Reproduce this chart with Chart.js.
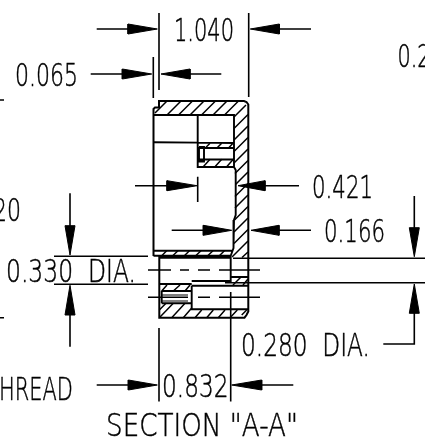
<!DOCTYPE html>
<html>
<head>
<meta charset="utf-8">
<script src="https://cdn.jsdelivr.net/npm/chart.js@4"></script>
<style>
  html, body { margin: 0; padding: 0; background: #fff; overflow: hidden; }
  canvas { display: block; }
</style>
</head>
<body>
<canvas id="drawing" width="425" height="438"></canvas>
<script>
// drawing units are the sheet units of the section view, y runs downward
const bodyOutline = [
    [[153.5,256],[153.5,109],[155,107.5],[159,107.5],[159,101],[244,101],[246.5,102],[248.3,104.5],[248.3,311.5],[246.5,315],[244.5,317.7],[159.3,317.7],[159.3,256]]
];
const innerLines = [
    [[153.5,115],[234,115],[234,167],[235.7,170],[235.7,215],[234,220],[233.5,248],[230,257.7]],
    [[197.7,115],[197.7,167],[234,167]],
    [[153.5,142.3],[197.7,142.6],[234,143]],
    [[199,148],[234,148]],
    [[199,159.5],[234,159.5]],
    [[199,147],[199,161.5],[204,161.5],[204,147],[199,147]],
    [[153.5,250.7],[233,250.7]],
    [[153.5,255.7],[230.7,255.7]],
    [[159.3,257.7],[230.7,257.7],[230.7,281],[191.7,281]],
    [[159.3,284],[191.7,284]],
    [[191.7,285.7],[248.3,285.7]],
    [[231,277],[248.3,277]],
    [[191.7,285.7],[191.7,309.3],[248.3,309.3]],
    [[161.7,291],[191.7,291]],
    [[161.7,303.3],[191.7,303.3]],
    [[161.7,291],[161.7,303.3]]
];
const threadLines = [
    [[162,295],[188,295]],
    [[162,301],[188,301]]
];
const centerLines = [
    [[148,270],[171,270]], [[180,270],[189,270]], [[198,270],[210,270]], [[219,270],[260,270]],
    [[148,297.3],[188,297.3]], [[198,297.3],[210,297.3]], [[219,297.3],[260,297.3]]
];
const hatchLines = [
    [[155,113],[167,101]], [[167,115],[181,101]], [[178.5,115],[192.5,101]], [[190,115],[204,101]],
    [[201.5,115],[215.5,101]], [[213,115],[227,101]], [[224.5,115],[238.5,101]], [[234,117],[246,105]],
    [[234,128.5],[248,114.5]], [[234,140],[248,126]], [[234,151.5],[248,137.5]], [[234,163],[248,149]],
    [[235,173.5],[248,160.5]], [[235.5,184.5],[248,172]], [[235,196.5],[248,183.5]], [[235,208],[248,195]],
    [[234.5,220],[248,206.5]], [[234,232],[248,218]], [[234,243.5],[248,229.5]], [[232,257],[248,241]],
    [[242,257.5],[248,252]],
    [[205,148.3],[210,143.3]], [[216.7,148.3],[221.7,143.3]], [[228.3,148.3],[233,143.3]],
    [[203.3,166.7],[210,159.3]], [[215,166.7],[221.7,159.3]], [[226.7,166.7],[233.3,159.3]],
    [[161.7,255.7],[166.7,250.7]], [[172.7,255.7],[178,250.7]], [[184.3,255.7],[189.5,250.7]],
    [[195.7,255.7],[201,250.7]], [[207.7,255.7],[213,250.7]], [[219.3,255.7],[224.5,250.7]],
    [[161.7,291],[167,285]], [[173.3,291],[180,285]], [[185,291],[190,285]],
    [[233,285],[241,277]], [[243,285],[248,279]],
    [[159.3,317.7],[173.3,303.3]], [[171.7,317.7],[185,303.3]], [[183.3,317.7],[191.7,308]],
    [[159.3,310],[166,303.3]], [[195,317.7],[201.7,310]], [[206.7,317.7],[213.3,310]],
    [[218.3,317.7],[225,310]], [[230,317.7],[237.3,310]], [[241.7,315],[246.7,310]]
];
const dimensionLines = [
    [[159,13],[159,90]], [[153.3,57],[153.3,98]], [[248.7,13],[248.7,97]],
    [[96.7,29],[130,29]], [[277,29],[311,29]],
    [[90.7,74],[124,74]], [[188,74],[221.3,74]],
    [[135,185.7],[169,185.7]], [[197.7,176.7],[197.7,202]],
    [[263,185.7],[299,185.7]], [[171.7,230.3],[205,230.3]], [[277,230.3],[311,230.3]],
    [[54,256.3],[148,256.3]], [[54,284.3],[148,284.3]],
    [[70,193.3],[70,227]], [[70,313],[70,346.7]],
    [[233,258.3],[425,258.3]], [[225,282.7],[425,282.7]],
    [[414.3,196],[414.3,229]], [[414.3,311],[414.3,344],[383.3,344]],
    [[159,328],[159,401.5]], [[230.7,292],[230.7,401.5]],
    [[96.7,385],[130,385]], [[260,385],[293.3,385]],
    [[0,100],[4,100]], [[0,317.7],[4,317.7]]
];
const arrowHeads = [
    [[157.3,29],[128,24],[128,34]], [[250.3,29],[279.3,24],[279.3,34]],
    [[151.7,74],[122.3,69],[122.3,79]], [[161,74],[190,69],[190,79]],
    [[197,185.7],[167,180.7],[167,190.7]], [[238,185.7],[265,180.7],[265,190.7]],
    [[231.7,230.3],[203.3,225.3],[203.3,235.3]], [[251,230.3],[279,225.3],[279,235.3]],
    [[70,255],[65,225.7],[75,225.7]], [[70,285.3],[65,315],[75,315]],
    [[414.3,256.7],[409.3,227.7],[419.3,227.7]], [[414.3,284],[409.3,313.3],[419.3,313.3]],
    [[157.3,385],[128.3,380],[128.3,390]], [[231.7,385],[261.7,380],[261.7,390]]
];
const labelTexts = ["1.040", "0.065", "0.2", "20", "0.330  DIA.", "0.421", "0.166", "0.280  DIA.", "HREAD", "0.832", 'SECTION "A-A"'];
const labelLeft = [174, 15, 397.5, -7, 6, 312, 324, 241, -1, 162, 106];
const labelBase = [41, 86, 67, 221, 282, 197.5, 242, 355.5, 399.5, 396.5, 436];
const labelWidth = [60, 63, 33, 28, 130, 61, 61, 129, 74, 66.5, 192];

const ink = "#000";

// one dataset per drawing style, gaps between the separate strokes
function strokes(paths) {
    const pts = [];
    paths.forEach(path => {
        path.forEach(p => pts.push({ x: p[0], y: p[1] }));
        pts.push({ x: null, y: null });
    });
    return pts;
}

function strokeSet(paths, width) {
    return {
        data: strokes(paths),
        showLine: true,
        borderColor: ink,
        borderWidth: width,
        pointRadius: 0,
        spanGaps: false,
        fill: false,
        tension: 0
    };
}

const headSets = arrowHeads.map(head => ({
    data: head.concat([head[0]]).map(p => ({ x: p[0], y: p[1] })),
    showLine: true,
    borderColor: ink,
    backgroundColor: ink,
    borderWidth: 1,
    pointRadius: 0,
    fill: "shape",
    tension: 0
}));

const labelPlugin = {
    id: "labels",
    afterDatasetsDraw(chart) {
        const c = chart.ctx;
        c.save();
        c.fillStyle = ink;
        c.strokeStyle = ink;
        c.lineWidth = 0.5; // extralight alone comes out paler than the drawing's pen
        c.textAlign = "left";
        c.textBaseline = "alphabetic";
        c.font = '200 32px "DejaVu Sans", sans-serif';
        labelTexts.forEach((t, i) => {
            const x = chart.scales.x.getPixelForValue(labelLeft[i]);
            const y = chart.scales.y.getPixelForValue(labelBase[i]);
            c.fillText(t, x, y, labelWidth[i]);
            c.strokeText(t, x, y, labelWidth[i]);
        });
        c.restore();
    }
};

new Chart(document.getElementById("drawing").getContext("2d"), {
    type: "scatter",
    data: {
        datasets: [
            strokeSet(hatchLines, 1.5),
            strokeSet(threadLines, 1),
            strokeSet(centerLines, 1.5),
            strokeSet(dimensionLines, 1.6),
            strokeSet(innerLines, 1.9),
            strokeSet(bodyOutline, 2)
        ].concat(headSets)
    },
    options: {
        responsive: false,
        animation: false,
        events: [],
        layout: { padding: 0 },
        plugins: { legend: { display: false }, tooltip: { enabled: false } },
        scales: {
            x: { type: "linear", min: 0, max: 425, display: false },
            y: { type: "linear", min: 0, max: 438, reverse: true, display: false }
        }
    },
    plugins: [labelPlugin]
});
</script>
</body>
</html>
